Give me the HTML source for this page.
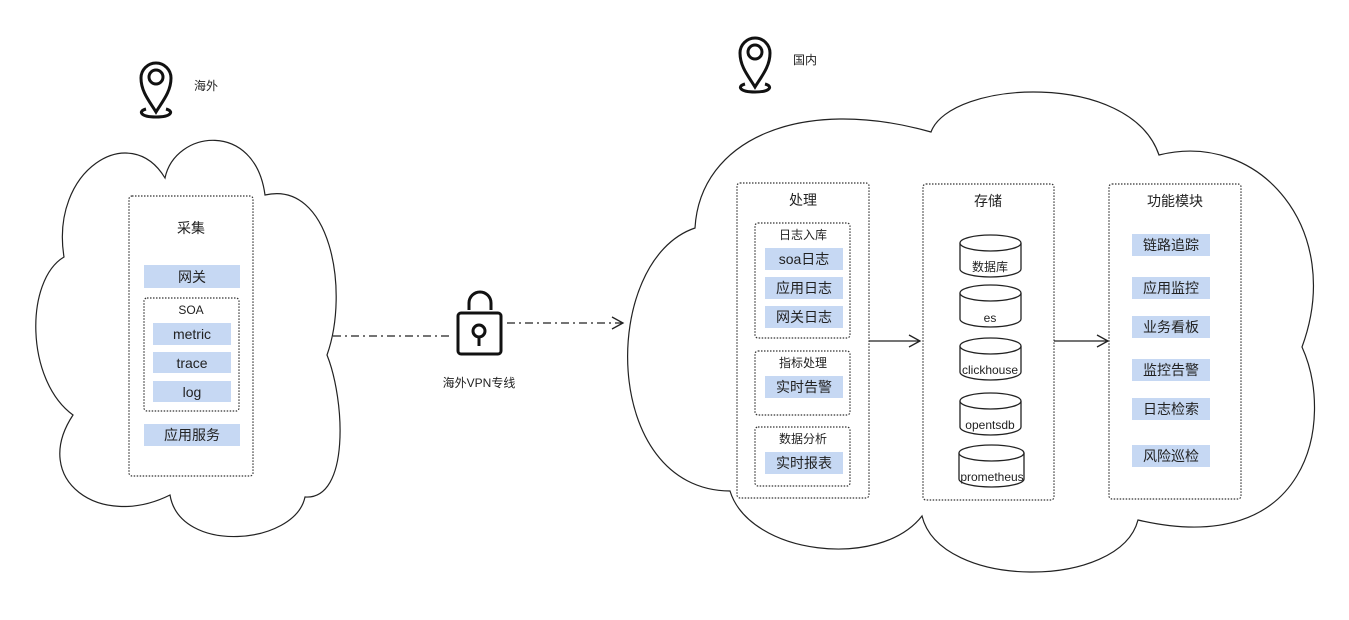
<!DOCTYPE html>
<html><head><meta charset="utf-8"><style>
html,body{margin:0;padding:0;background:#fff;}
svg text{font-family:"Liberation Sans","Noto Sans CJK SC",sans-serif;fill:#222;}
</style></head><body>
<svg width="1349" height="615" viewBox="0 0 1349 615" xmlns="http://www.w3.org/2000/svg">
<defs>
<marker id="ar" markerWidth="14" markerHeight="14" refX="12" refY="7" orient="auto" markerUnits="userSpaceOnUse">
<path d="M1,1 L12,7 L1,13" fill="none" stroke="#222" stroke-width="1.3"/>
</marker>
</defs>
<path d="M64,257 C50,170 130,120 165,178 C175,130 255,120 265,195 C330,180 350,290 327,355 C345,400 350,500 305,497 C295,545 180,555 170,495 C100,530 30,480 73,415 C25,380 25,280 64,257 Z" fill="none" stroke="#222" stroke-width="1.2"/>
<path d="M695,228 C700,140 800,95 931,132 C950,80 1130,70 1159,155 C1260,130 1345,230 1302,347 C1335,420 1310,560 1138,520 C1120,590 940,590 922,516 C880,570 750,555 730,491 C600,490 600,260 695,228 Z" fill="none" stroke="#222" stroke-width="1.2"/>

<g fill="none" stroke="#111" stroke-width="3">
<path d="M156,112 C150,102 141,92 141,78 A15,15 0 0 1 171,78 C171,92 162,102 156,112 Z"/>
<circle cx="156" cy="77" r="7"/>
<path d="M146,109 C138,111 140,117 156,117 C172,117 174,111 166,109"/>
<path d="M755,87 C749,77 740,67 740,53 A15,15 0 0 1 770,53 C770,67 761,77 755,87 Z"/>
<circle cx="755" cy="52" r="7"/>
<path d="M745,84 C737,86 739,92 755,92 C771,92 773,86 765,84"/>
</g>
<text x="194" y="90" font-size="12">海外</text>
<text x="793" y="64" font-size="12">国内</text>

<g fill="none" stroke="#333" stroke-width="1.2" stroke-dasharray="1.5,1.5">
<rect x="129" y="196" width="124" height="280" rx="3"/>
<rect x="144" y="298" width="95" height="113" rx="3"/>
<rect x="737" y="183" width="132" height="315" rx="3"/>
<rect x="755" y="223" width="95" height="115" rx="3"/>
<rect x="755" y="351" width="95" height="64" rx="3"/>
<rect x="755" y="427" width="95" height="59" rx="3"/>
<rect x="923" y="184" width="131" height="316" rx="3"/>
<rect x="1109" y="184" width="132" height="315" rx="3"/>
</g>

<g fill="#c6d8f3">
<rect x="144" y="265" width="96" height="23"/>
<rect x="153" y="323" width="78" height="22"/>
<rect x="153" y="352" width="78" height="21"/>
<rect x="153" y="381" width="78" height="21"/>
<rect x="144" y="424" width="96" height="22"/>
<rect x="765" y="248" width="78" height="22"/>
<rect x="765" y="277" width="78" height="22"/>
<rect x="765" y="306" width="78" height="22"/>
<rect x="765" y="376" width="78" height="22"/>
<rect x="765" y="452" width="78" height="22"/>
<rect x="1132" y="234" width="78" height="22"/>
<rect x="1132" y="277" width="78" height="22"/>
<rect x="1132" y="316" width="78" height="22"/>
<rect x="1132" y="359" width="78" height="22"/>
<rect x="1132" y="398" width="78" height="22"/>
<rect x="1132" y="445" width="78" height="22"/>
</g>

<g font-size="14" text-anchor="middle">
<text x="191" y="233">采集</text>
<text x="192" y="282">网关</text>
<text x="191" y="314" font-size="12">SOA</text>
<text x="192" y="339">metric</text>
<text x="192" y="368">trace</text>
<text x="192" y="397">log</text>
<text x="192" y="440">应用服务</text>
<text x="803" y="205">处理</text>
<text x="803" y="239" font-size="12">日志入库</text>
<text x="804" y="264">soa日志</text>
<text x="804" y="293">应用日志</text>
<text x="804" y="322">网关日志</text>
<text x="803" y="367" font-size="12">指标处理</text>
<text x="804" y="392">实时告警</text>
<text x="803" y="443" font-size="12">数据分析</text>
<text x="804" y="468">实时报表</text>
<text x="988" y="206">存储</text>
<text x="1175" y="206">功能模块</text>
<text x="1171" y="250">链路追踪</text>
<text x="1171" y="293">应用监控</text>
<text x="1171" y="332">业务看板</text>
<text x="1171" y="375">监控告警</text>
<text x="1171" y="414">日志检索</text>
<text x="1171" y="461">风险巡检</text>
</g>

<g fill="#fff" stroke="#222" stroke-width="1.3">
<path d="M960,243 L960,269 A30.5,8 0 0 0 1021,269 L1021,243"/><ellipse cx="990.5" cy="243" rx="30.5" ry="8"/>
<path d="M960,293 L960,319 A30.5,8 0 0 0 1021,319 L1021,293"/><ellipse cx="990.5" cy="293" rx="30.5" ry="8"/>
<path d="M960,346 L960,372 A30.5,8 0 0 0 1021,372 L1021,346"/><ellipse cx="990.5" cy="346" rx="30.5" ry="8"/>
<path d="M960,401 L960,427 A30.5,8 0 0 0 1021,427 L1021,401"/><ellipse cx="990.5" cy="401" rx="30.5" ry="8"/>
<path d="M959,453 L959,479 A32.5,8 0 0 0 1024,479 L1024,453"/><ellipse cx="991.5" cy="453" rx="32.5" ry="8"/>
</g>
<g font-size="12" text-anchor="middle">
<text x="990" y="271">数据库</text>
<text x="990" y="322">es</text>
<text x="990" y="374">clickhouse</text>
<text x="990" y="429">opentsdb</text>
<text x="992" y="481">prometheus</text>
</g>

<g stroke="#222" stroke-width="1.3" fill="none">
<line x1="869" y1="341" x2="920" y2="341" marker-end="url(#ar)"/>
<line x1="1054" y1="341" x2="1108" y2="341" marker-end="url(#ar)"/>
<line x1="333" y1="336" x2="452" y2="336" stroke-dasharray="8,4,2,4"/>
<line x1="507" y1="323" x2="623" y2="323" stroke-dasharray="8,4,2,4" marker-end="url(#ar)"/>
</g>

<g fill="none" stroke="#111" stroke-width="3">
<path d="M469,310 L469,303 A11,11 0 0 1 491,303 L491,310"/>
<rect x="458" y="313" width="43" height="41" rx="3"/>
<circle cx="479" cy="331" r="6"/>
<line x1="479" y1="337" x2="479" y2="346"/>
</g>
<text x="479" y="387" font-size="12" text-anchor="middle">海外VPN专线</text>
</svg>
</body></html>
